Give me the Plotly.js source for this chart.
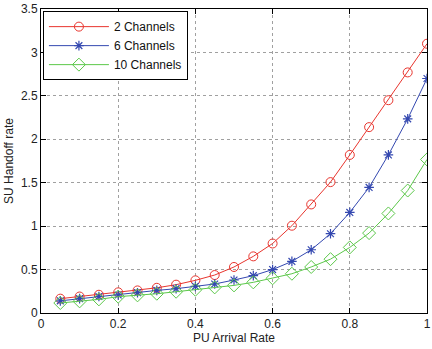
<!DOCTYPE html>
<html>
<head>
<meta charset="utf-8">
<script src="https://cdn.plot.ly/plotly-3.0.1.min.js"></script>
<style>html,body{margin:0;padding:0;background:#fff;}#chart{width:432px;height:349px;}</style>
</head>
<body>
<div id="chart"></div>
<script>
const xRate = [0.05,0.1,0.15,0.2,0.25,0.3,0.35,0.4,0.45,0.5,0.55,0.6,0.65,0.7,0.75,0.8,0.85,0.9,0.95,1.0];
const ch2 = [0.165,0.19,0.21,0.238,0.26,0.29,0.326,0.376,0.437,0.53,0.652,0.80,1.005,1.25,1.507,1.82,2.14,2.45,2.77,3.10];
const ch6 = [0.14,0.165,0.19,0.207,0.234,0.26,0.28,0.307,0.334,0.38,0.43,0.50,0.594,0.728,0.913,1.158,1.446,1.82,2.235,2.70];
const ch10 = [0.115,0.134,0.157,0.188,0.203,0.222,0.245,0.268,0.295,0.318,0.353,0.40,0.452,0.53,0.62,0.755,0.92,1.146,1.41,1.768];
const seriesNames = ['2 Channels','6 Channels','10 Channels'];
const xTicks = [0,0.2,0.4,0.6,0.8,1];
const xTickText = ['0','0.2','0.4','0.6','0.8','1'];
const yTicks = [0,0.5,1,1.5,2,2.5,3,3.5];
const yTickText = ['0','0.5','1','1.5','2','2.5','3','3.5'];

const traces = [
  {x:xRate,y:ch2,name:seriesNames[0],mode:'lines+markers',line:{color:'#e8352e',width:1},
   marker:{symbol:'circle-open',size:9,color:'#e8352e',line:{width:1,color:'#e8352e'}}},
  {x:xRate,y:ch6,name:seriesNames[1],mode:'lines+markers',line:{color:'#3448b0',width:1},
   marker:{symbol:'asterisk-open',size:8,color:'#3448b0',line:{width:1.2,color:'#3448b0'}}},
  {x:xRate,y:ch10,name:seriesNames[2],mode:'lines+markers',line:{color:'#5cc84a',width:1},
   marker:{symbol:'diamond-open',size:10,color:'#5cc84a',line:{width:1,color:'#5cc84a'}}}
];
const axisCommon = {showline:true,linecolor:'#000',linewidth:1,mirror:'ticks',ticks:'inside',ticklen:5,tickcolor:'#000',
  showgrid:true,gridcolor:'#a0a0a0',griddash:'dot',gridwidth:1,zeroline:false,
  tickfont:{family:'Liberation Sans, Arial, sans-serif',size:12,color:'#222'}};
const layout = {
  width:432,height:349,margin:{l:41,r:5,t:9,b:36},paper_bgcolor:'#fff',plot_bgcolor:'#fff',
  xaxis:Object.assign({},axisCommon,{range:[0,1.00001],tickvals:xTicks,ticktext:xTickText,
    title:{text:'PU Arrival Rate',font:{family:'Liberation Sans, Arial, sans-serif',size:12,color:'#222'},standoff:2}}),
  yaxis:Object.assign({},axisCommon,{range:[0,3.5],tickvals:yTicks,ticktext:yTickText,
    title:{text:'SU Handoff rate',font:{family:'Liberation Sans, Arial, sans-serif',size:12,color:'#222'},standoff:4}}),
  showlegend:true,
  legend:{x:0.005,y:0.993,xanchor:'left',yanchor:'top',bgcolor:'#fff',bordercolor:'#000',borderwidth:1,
    font:{family:'Liberation Sans, Arial, sans-serif',size:12,color:'#111'},tracegroupgap:0,itemwidth:60}
};
Plotly.newPlot('chart',traces,layout,{displayModeBar:false,staticPlot:true});
</script>
</body>
</html>
